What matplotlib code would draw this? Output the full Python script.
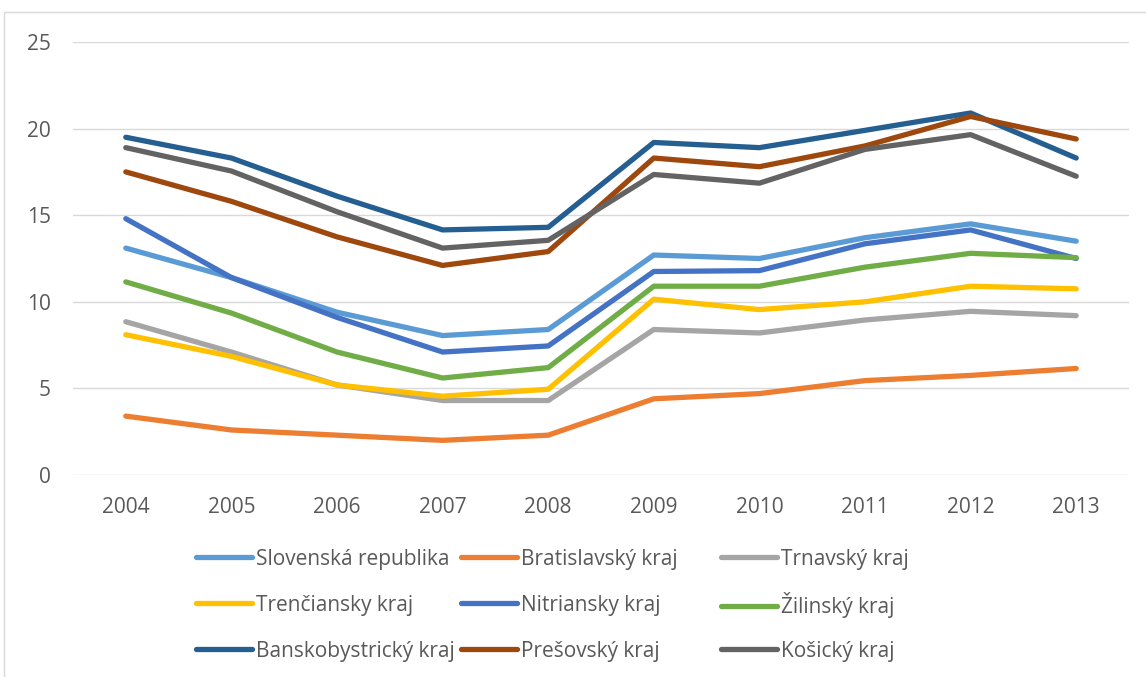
import matplotlib
matplotlib.use("Agg")
import matplotlib.pyplot as plt
from matplotlib.patches import Rectangle

years = ["2004", "2005", "2006", "2007", "2008", "2009", "2010", "2011", "2012", "2013"]

slovenska_republika = [13.1, 11.4, 9.4, 8.05, 8.4, 12.7, 12.5, 13.7, 14.5, 13.5]
bratislavsky = [3.4, 2.6, 2.3, 2.0, 2.3, 4.4, 4.7, 5.45, 5.75, 6.15]
trnavsky = [8.85, 7.1, 5.2, 4.3, 4.3, 8.4, 8.2, 8.95, 9.45, 9.2]
trenciansky = [8.1, 6.85, 5.2, 4.55, 4.95, 10.15, 9.55, 10.0, 10.9, 10.75]
nitriansky = [14.8, 11.4, 9.1, 7.1, 7.45, 11.75, 11.8, 13.35, 14.15, 12.5]
zilinsky = [11.15, 9.35, 7.1, 5.6, 6.2, 10.9, 10.9, 12.0, 12.8, 12.55]
banskobystricky = [19.5, 18.3, 16.1, 14.15, 14.3, 19.2, 18.9, 19.9, 20.9, 18.3]
presovsky = [17.5, 15.8, 13.75, 12.1, 12.9, 18.3, 17.8, 19.0, 20.7, 19.4]
kosicky = [18.9, 17.55, 15.2, 13.1, 13.55, 17.35, 16.85, 18.8, 19.65, 17.25]

series = [
    ("Slovenská republika", slovenska_republika, "#5B9BD5"),
    ("Bratislavský kraj", bratislavsky, "#ED7D31"),
    ("Trnavský kraj", trnavsky, "#A5A5A5"),
    ("Trenčiansky kraj", trenciansky, "#FFC000"),
    ("Nitriansky kraj", nitriansky, "#4472C4"),
    ("Žilinský kraj", zilinsky, "#70AD47"),
    ("Banskobystrický kraj", banskobystricky, "#255E91"),
    ("Prešovský kraj", presovsky, "#9E480E"),
    ("Košický kraj", kosicky, "#636363"),
]

plt.rcParams["font.family"] = ["Open Sans", "DejaVu Sans"]
W, H = 1146, 677
FS = 15
fig = plt.figure(figsize=(W / 100, H / 100), dpi=100)
ax = fig.add_axes([73 / W, 1 - 475 / H, (1129 - 73) / W, (475 - 42) / H])

x = list(range(len(years)))
handles = []
for name, vals, color in series:
    (ln,) = ax.plot(x, vals, color=color, lw=3.8, solid_capstyle="round",
                    solid_joinstyle="round", label=name, zorder=3)
    handles.append(ln)

ax.set_xlim(-0.5, len(years) - 0.5)
ax.set_ylim(0, 25)
ax.set_yticks([0, 5, 10, 15, 20, 25])
ax.set_xticks(x)
ax.set_xticklabels(years)
ax.grid(axis="y", color="#D9D9D9", lw=1.0)
ax.set_axisbelow(True)
for s in ax.spines.values():
    s.set_visible(False)
ax.tick_params(length=0, labelsize=FS, labelcolor="#595959")
ax.tick_params(axis="y", pad=16)
ax.tick_params(axis="x", pad=16)

# Excel-style legend: 3 equal-width columns, row-wise order, one entry each
col_x = [196, 461, 721]
row_y = [559, 605, 651]
for i, h in enumerate(handles):
    r, c = divmod(i, 3)
    fig.legend(handles=[h], labels=[h.get_label()],
               loc="center left", bbox_to_anchor=(col_x[c] / W, 1 - row_y[r] / H),
               frameon=False, fontsize=FS, labelcolor="#595959",
               handlelength=2.7, handletextpad=0.2,
               borderpad=0, borderaxespad=0)

fig.add_artist(Rectangle((4 / W, -0.1), 1.2, (H - 12) / H + 0.1,
                         transform=fig.transFigure, fill=False,
                         edgecolor="#D9D9D9", lw=1.0))

fig.savefig("out.png", dpi=100)
